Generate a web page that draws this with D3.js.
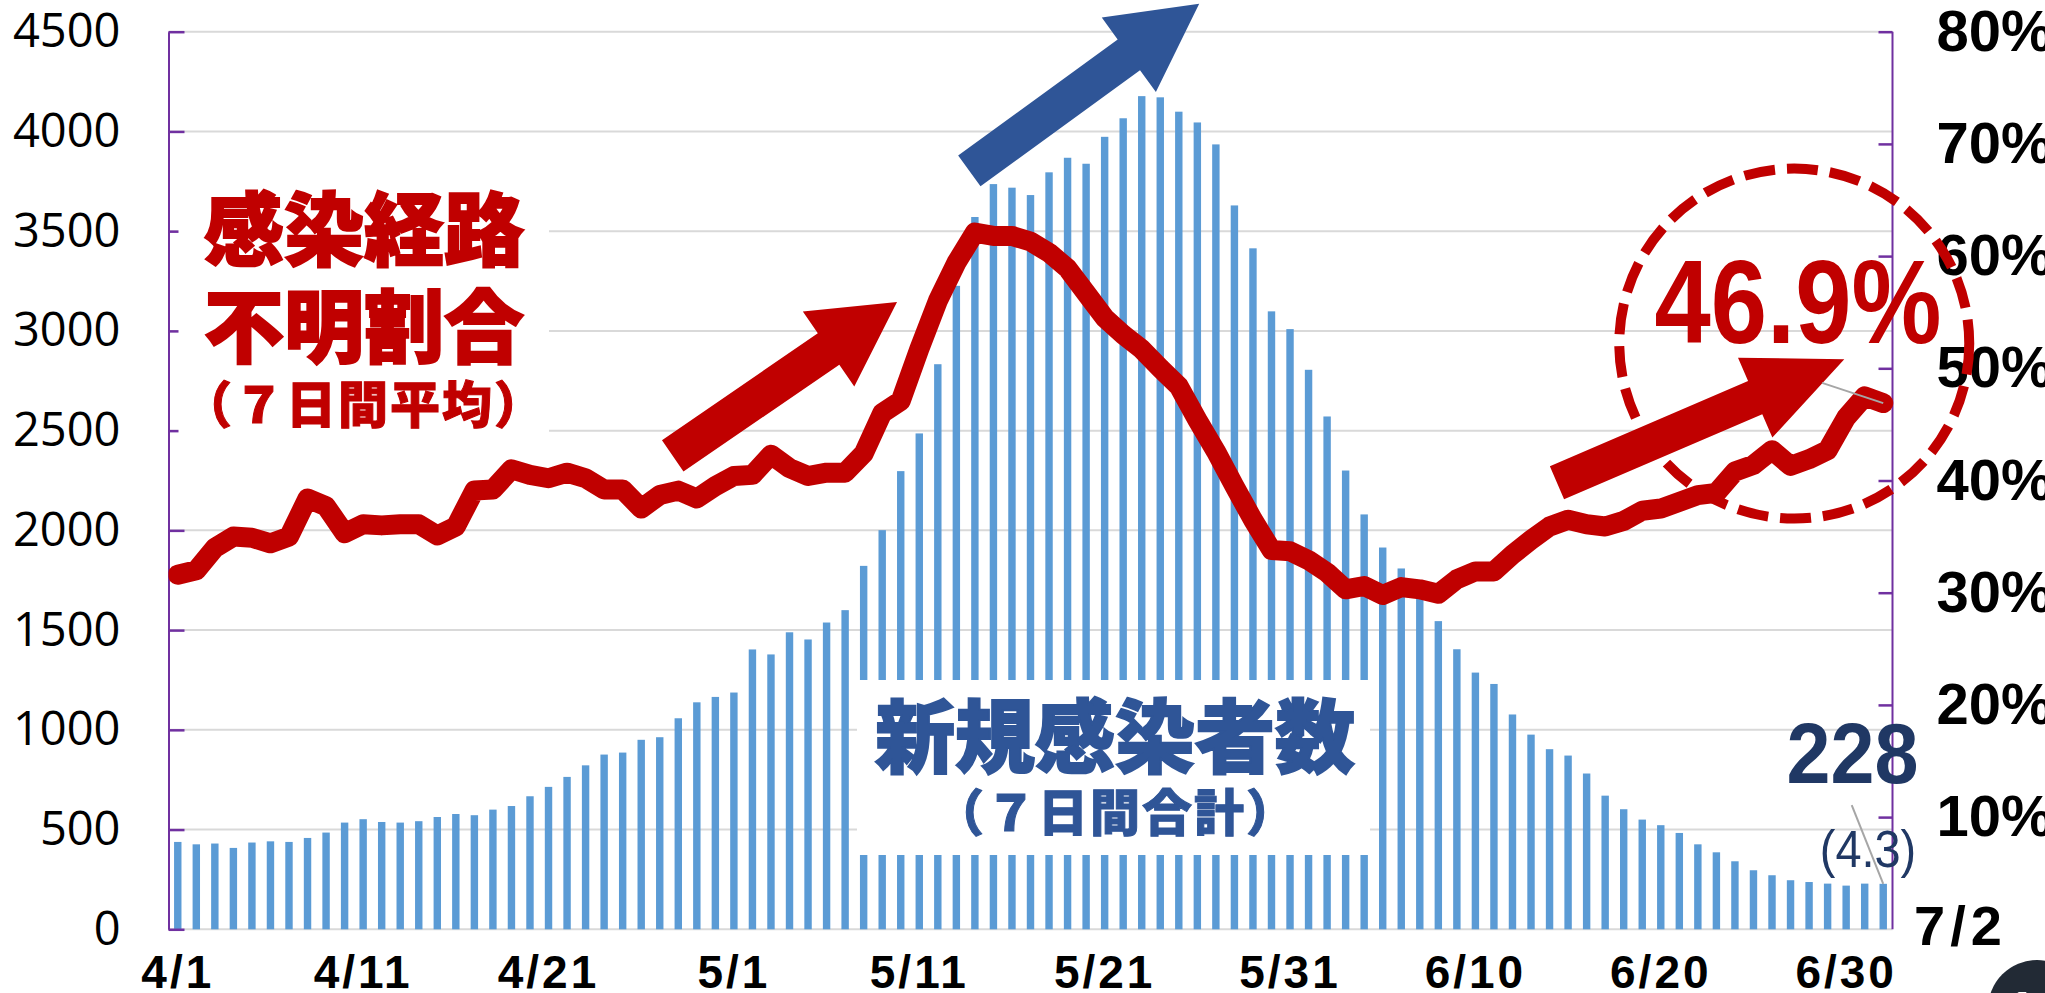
<!DOCTYPE html>
<html lang="ja">
<head>
<meta charset="utf-8">
<script src="https://cdn.jsdelivr.net/npm/d3@7"></script>
<style>
  html, body { margin: 0; padding: 0; background: #fff; overflow: hidden; }
  svg { display: block; }
</style>
</head>
<body>
<div id="chart"></div>
<script>
// 新規感染者数（7日間合計）と感染経路不明割合（7日間平均）

const width = 2045;
const height = 993;

// 4/1〜7/2 の日付
const days = d3.timeDay.range(new Date(2021, 3, 1), new Date(2021, 6, 3));
const dayLabels = days.map(d3.timeFormat("%-m/%-d"));

// 新規感染者数（7日間合計）
const newCases7d = [
  // 4月
  438, 426, 430, 408, 435, 441, 438, 458, 485, 535,
  552, 538, 535, 542, 563, 578, 572, 600, 618, 667,
  714, 764, 822, 876, 886, 950, 963, 1058, 1138, 1165,
  // 5月
  1187, 1403, 1378, 1489, 1453, 1538, 1600, 1822, 2001, 2297,
  2486, 2833, 3226, 3571, 3736, 3718, 3681, 3795, 3868, 3838,
  3973, 4066, 4177, 4171, 4099, 4045, 3935, 3629, 3414, 3098, 3009,
  // 6月
  2805, 2571, 2300, 2080, 1914, 1809, 1700, 1545, 1404, 1287,
  1230, 1077, 976, 903, 871, 781, 670, 602, 550, 522,
  483, 426, 386, 341, 296, 271, 246, 237, 229, 219,
  // 7月
  229, 228
];

// 感染経路不明割合（7日間平均, %）
const unknownRate = [
  31.6, 32.0, 34.0, 35.0, 34.9, 34.4, 35.0, 38.4, 37.7, 35.3,
  36.1, 36.0, 36.1, 36.1, 35.1, 35.9, 39.1, 39.2, 41.0, 40.5,
  40.2, 40.7, 40.2, 39.2, 39.2, 37.5, 38.7, 39.1, 38.4, 39.5,
  40.4, 40.5, 42.3, 41.1, 40.4, 40.7, 40.7, 42.4, 46.0, 47.1,
  51.7, 56.0, 59.4, 62.1, 61.8, 61.8, 61.3, 60.3, 58.9, 56.7,
  54.5, 53.0, 51.7, 50.0, 48.4, 45.4, 42.6, 39.5, 36.5, 33.8, 33.7,
  32.9, 31.8, 30.3, 30.6, 29.8, 30.5, 30.3, 29.9, 31.2, 31.9,
  31.9, 33.4, 34.7, 35.9, 36.5, 36.1, 35.9, 36.4, 37.3, 37.5,
  38.1, 38.7, 38.9, 40.8, 41.4, 42.7, 41.3, 41.9, 42.7, 45.6,
  47.5, 46.9
];

const xTickLabels = ["4/1", "4/11", "4/21", "5/1", "5/11", "5/21", "5/31", "6/10", "6/20", "6/30"];
const leftTicks = [0, 500, 1000, 1500, 2000, 2500, 3000, 3500, 4000, 4500];
const rightTicks = [10, 20, 30, 40, 50, 60, 70, 80];

const RED = "#C00000";
const BLUE = "#2F5597";
const NAVY = "#203864";
const PURPLE = "#7030A0";
const latin = "'Liberation Sans', Arial, sans-serif";
const cjk = "'Noto Sans CJK JP', sans-serif";

const plot = { left: 168.5, right: 1892.5, top: 31.7, bottom: 929.3 };

const svg = d3
  .select("#chart")
  .append("svg")
  .attr("width", width)
  .attr("height", height);

// scales
const x = d3
  .scaleBand()
  .domain(dayLabels)
  .range([plot.left, plot.right])
  .paddingInner(0.6)
  .paddingOuter(0.3);

const yLeft = d3.scaleLinear().domain([0, 4500]).range([plot.bottom, plot.top]);
const yRight = d3.scaleLinear().domain([0, 80]).range([plot.bottom, plot.top]);

const cx = i => x(dayLabels[i]) + x.bandwidth() / 2;
// 注記用: 日付インデックス（小数可）→ x
const xIdx = d3
  .scaleLinear()
  .domain([0, dayLabels.length - 1])
  .range([cx(0), cx(dayLabels.length - 1)]);

// 1. 目盛線
svg
  .append("g")
  .selectAll("line")
  .data(leftTicks)
  .join("line")
  .attr("x1", plot.left)
  .attr("x2", plot.right)
  .attr("y1", d => yLeft(d))
  .attr("y2", d => yLeft(d))
  .attr("stroke", "#D9D9D9")
  .attr("stroke-width", 2);

// 2. 棒（新規感染者数）
svg
  .append("g")
  .selectAll("rect")
  .data(newCases7d)
  .join("rect")
  .attr("x", (d, i) => x(dayLabels[i]))
  .attr("width", x.bandwidth())
  .attr("y", d => yLeft(d))
  .attr("height", d => yLeft(0) - yLeft(d))
  .attr("fill", "#5B9BD5");

// 3. 軸
svg
  .append("g")
  .attr("transform", `translate(${plot.left},0)`)
  .call(
    d3.axisLeft(yLeft)
      .tickValues(leftTicks)
      .tickFormat(d3.format("d"))
      .tickSizeInner(-16)
      .tickSizeOuter(0)
      .tickPadding(48)
  )
  .call(g => g.select(".domain").attr("stroke", PURPLE).attr("stroke-width", 2))
  .call(g => g.selectAll(".tick line").attr("stroke", PURPLE).attr("stroke-width", 2.5))
  .call(g =>
    g.selectAll(".tick text")
      .attr("font-family", "'Open Sans', sans-serif")
      .attr("font-size", 47)
      .attr("fill", "#000")
  );

svg
  .append("g")
  .attr("transform", `translate(${plot.right},0)`)
  .call(
    d3.axisRight(yRight)
      .tickValues(rightTicks)
      .tickSizeInner(-14)
      .tickSizeOuter(0)
      .tickPadding(44)
      .tickFormat(d => d + "%")
  )
  .call(g => g.select(".domain").attr("d", `M0,${yRight(0)}V${yRight(80)}`).attr("stroke", PURPLE).attr("stroke-width", 2))
  .call(g => g.selectAll(".tick line").attr("stroke", PURPLE).attr("stroke-width", 2.5))
  .call(g =>
    g.selectAll(".tick text")
      .attr("font-family", latin)
      .attr("font-weight", "bold")
      .attr("font-size", 58)
      .attr("fill", "#000")
  );

svg
  .append("g")
  .attr("transform", `translate(0,${plot.bottom})`)
  .call(d3.axisBottom(x).tickValues(xTickLabels).tickSize(0).tickPadding(26))
  .call(g => g.select(".domain").remove())
  .call(g =>
    g.selectAll(".tick text")
      .attr("font-family", latin)
      .attr("font-weight", "bold")
      .attr("font-size", 46)
      .attr("letter-spacing", 3)
      .attr("fill", "#000")
  );

// 4. 白い注記ボックス
svg.append("rect").attr("x", 178.5).attr("y", 150).attr("width", 370.5).attr("height", 295).attr("fill", "#fff");
svg.append("rect").attr("x", 857).attr("y", 680).attr("width", 513).attr("height", 175).attr("fill", "#fff");

// タイトル（赤）
const redTitle = svg
  .append("g")
  .attr("font-family", cjk)
  .attr("font-weight", 900)
  .attr("fill", RED)
  .attr("stroke", RED)
  .attr("stroke-width", 2)
  .attr("text-anchor", "middle");
redTitle.append("text").attr("x", 364).attr("y", 259).attr("font-size", 80).text("感染経路");
redTitle.append("text").attr("x", 364).attr("y", 356).attr("font-size", 80).text("不明割合");
redTitle.append("text").attr("x", 364).attr("y", 423).attr("font-size", 50).attr("letter-spacing", 2).attr("stroke-width", 1).text("（７日間平均）");

// 棒の説明（青）
const blueTitle = svg
  .append("g")
  .attr("font-family", cjk)
  .attr("font-weight", 900)
  .attr("fill", BLUE)
  .attr("stroke", BLUE)
  .attr("stroke-width", 2)
  .attr("text-anchor", "middle");
blueTitle.append("text").attr("x", 1115).attr("y", 766).attr("font-size", 80).text("新規感染者数");
blueTitle.append("text").attr("x", 1116).attr("y", 831).attr("font-size", 50).attr("letter-spacing", 2).attr("stroke-width", 1).text("（７日間合計）");

// 5. 折れ線（不明割合）
svg
  .append("clipPath")
  .attr("id", "plotClip")
  .append("rect")
  .attr("x", plot.left)
  .attr("y", 0)
  .attr("width", plot.right - plot.left + 12)
  .attr("height", height);

const line = d3
  .line()
  .x((d, i) => cx(i))
  .y(d => yRight(d));

svg
  .append("path")
  .datum(unknownRate)
  .attr("clip-path", "url(#plotClip)")
  .attr("d", line)
  .attr("fill", "none")
  .attr("stroke", RED)
  .attr("stroke-width", 20)
  .attr("stroke-linejoin", "round")
  .attr("stroke-linecap", "round");

// 6. 矢印（from/to は [日付インデックス, %]）
const arrows = [
  { from: [26.7, 42.2], to: [38.8, 55.9], shaft: 38, head: 91, headLen: 83, color: RED },
  { from: [42.7, 67.6], to: [55.1, 82.5], shaft: 38, head: 92, headLen: 87, color: BLUE },
  { from: [74.4, 39.8], to: [89.9, 50.8], shaft: 36, head: 87, headLen: 97, color: RED }
];

function arrowPoints(p0, p1, shaftW, headW, headL) {
  const dx = p1[0] - p0[0];
  const dy = p1[1] - p0[1];
  const len = Math.hypot(dx, dy);
  const ux = dx / len, uy = dy / len;
  const nx = -uy, ny = ux;
  const bx = p1[0] - ux * headL, by = p1[1] - uy * headL;
  const s = shaftW / 2, h = headW / 2;
  return [
    [p0[0] + nx * s, p0[1] + ny * s],
    [bx + nx * s, by + ny * s],
    [bx + nx * h, by + ny * h],
    p1,
    [bx - nx * h, by - ny * h],
    [bx - nx * s, by - ny * s],
    [p0[0] - nx * s, p0[1] - ny * s]
  ];
}

svg
  .append("g")
  .selectAll("polygon")
  .data(arrows)
  .join("polygon")
  .attr("points", d => {
    const p0 = [xIdx(d.from[0]), yRight(d.from[1])];
    const p1 = [xIdx(d.to[0]), yRight(d.to[1])];
    return arrowPoints(p0, p1, d.shaft, d.head, d.headLen).map(p => p.join(",")).join(" ");
  })
  .attr("fill", d => d.color);

// 7. 引き出し線
const last = dayLabels.length - 1;
svg
  .append("line")
  .attr("x1", xIdx(88.7)).attr("y1", yRight(48.7))
  .attr("x2", cx(last)).attr("y2", yRight(unknownRate[last]))
  .attr("stroke", "#A6A6A6").attr("stroke-width", 2);

// 8. 点線の円
svg
  .append("circle")
  .attr("cx", xIdx(87.2))
  .attr("cy", yRight(52.2))
  .attr("r", 175)
  .attr("fill", "none")
  .attr("stroke", RED)
  .attr("stroke-width", 10)
  .attr("stroke-dasharray", "31 12");

// 9. 数値ラベル
svg
  .append("text")
  .attr("transform", "translate(1798,343) scale(0.85,1)")
  .attr("text-anchor", "middle")
  .attr("font-family", latin)
  .attr("font-weight", "bold")
  .attr("font-size", 119)
  .attr("fill", RED)
  .text(unknownRate[last].toFixed(1) + "%");

svg
  .append("text")
  .attr("transform", "translate(1852.5,783) scale(0.92,1)")
  .attr("text-anchor", "middle")
  .attr("font-family", latin)
  .attr("font-weight", "bold")
  .attr("font-size", 86)
  .attr("fill", NAVY)
  .text(newCases7d[last]);

svg
  .append("text")
  .attr("transform", "translate(1868,866.7) scale(0.92,1)")
  .attr("text-anchor", "middle")
  .attr("font-family", latin)
  .attr("font-size", 51)
  .attr("fill", NAVY)
  .text("(4.3)");

svg
  .append("line")
  .attr("x1", xIdx(90.3)).attr("y1", yLeft(623))
  .attr("x2", cx(last)).attr("y2", yLeft(newCases7d[last]))
  .attr("stroke", "#A6A6A6").attr("stroke-width", 2);

svg
  .append("text")
  .attr("x", 1914)
  .attr("y", 945)
  .attr("font-family", latin)
  .attr("font-weight", "bold")
  .attr("font-size", 56)
  .attr("letter-spacing", 5)
  .attr("fill", "#000")
  .text(dayLabels[last]);

// 10. ページ番号
svg.append("circle").attr("cx", 2037).attr("cy", 1009).attr("r", 49).attr("fill", "#222A35");
svg
  .append("text")
  .attr("x", 2035)
  .attr("y", 1030)
  .attr("text-anchor", "middle")
  .attr("font-family", latin)
  .attr("font-weight", "bold")
  .attr("font-size", 56)
  .attr("fill", "#fff")
  .text("11");
</script>
</body>
</html>
